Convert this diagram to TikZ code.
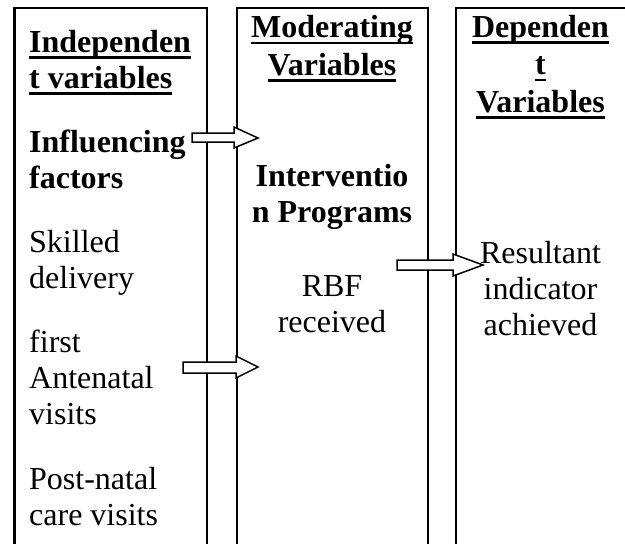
\documentclass[tikz,border=0pt]{standalone}
\usepackage{fontspec}
\setmainfont{Liberation Serif}
\newsavebox\ulbox
\newcommand\myul[1]{\sbox\ulbox{#1}\rlap{\rule[-6.5pt]{\wd\ulbox}{2.5pt}}\usebox\ulbox}
\tikzset{
  colbox/.style={draw=black, line width=2.2pt, inner sep=0pt, fill=none},
  txt/.style={inner sep=0pt, font=\fontsize{32}{36}\selectfont},
  head/.style={inner sep=0pt, font=\fontsize{32}{37.5}\selectfont\bfseries},
  barrow/.style={draw=black, fill=white, line width=1.5pt, line join=miter}
}
\begin{document}
\begin{tikzpicture}[x=1pt,y=-1pt]
\useasboundingbox (0,0) rectangle (625,544);
\clip (0,0) rectangle (625,544);
% columns
\node[colbox, minimum width=192.5pt, minimum height=562pt] (c1) at (110.75,289) {};
\node[colbox, minimum width=191pt, minimum height=562pt] (c2) at (332.5,289) {};
\node[colbox, minimum width=184pt, minimum height=562pt] (c3) at (548,289) {};
% left column texts (anchor at baseline of last line)
\node[txt, anchor=base west, align=left, font=\fontsize{32}{36}\selectfont\bfseries] (h1) at (29,88) {\myul{Independen}\\\myul{t variables}};
\node[txt, anchor=base west, align=left, font=\fontsize{32}{36}\selectfont\bfseries] (f1) at (29,188) {Influencing\\factors};
\node[txt, anchor=base west, align=left] (f2) at (29,288) {Skilled\\delivery};
\node[txt, anchor=base west, align=left] (f3) at (29,424) {first\\Antenatal\\visits};
\node[txt, anchor=base west, align=left] (f4) at (29,525) {Post-natal\\care visits};
% middle column texts
\node[head, anchor=base, align=center] (h2) at (332,75) {\myul{Moderating}\\\myul{Variables}};
\node[txt, anchor=base, align=center, font=\fontsize{32}{36}\selectfont\bfseries] (m1) at (332,222) {Interventio\\n Programs};
\node[txt, anchor=base, align=center] (m2) at (332,332) {RBF\\received};
% right column texts
\node[head, anchor=base, align=center] (h3) at (540.5,112) {\myul{Dependen}\\\myul{t}\\\myul{Variables}};
\node[txt, anchor=base, align=center] (r1) at (540.5,335) {Resultant\\indicator\\achieved};
% block arrows
\draw[barrow] (192,133) -- (234,133) -- (234,127) -- (258,138) -- (234,148) -- (234,142) -- (192,142) -- cycle;
\draw[barrow] (183,362) -- (236,362) -- (236,356) -- (258,367) -- (236,378) -- (236,373) -- (183,373) -- cycle;
\draw[barrow] (397,260) -- (453,260) -- (453,254) -- (483,265) -- (453,276) -- (453,270) -- (397,270) -- cycle;
\end{tikzpicture}
\end{document}
